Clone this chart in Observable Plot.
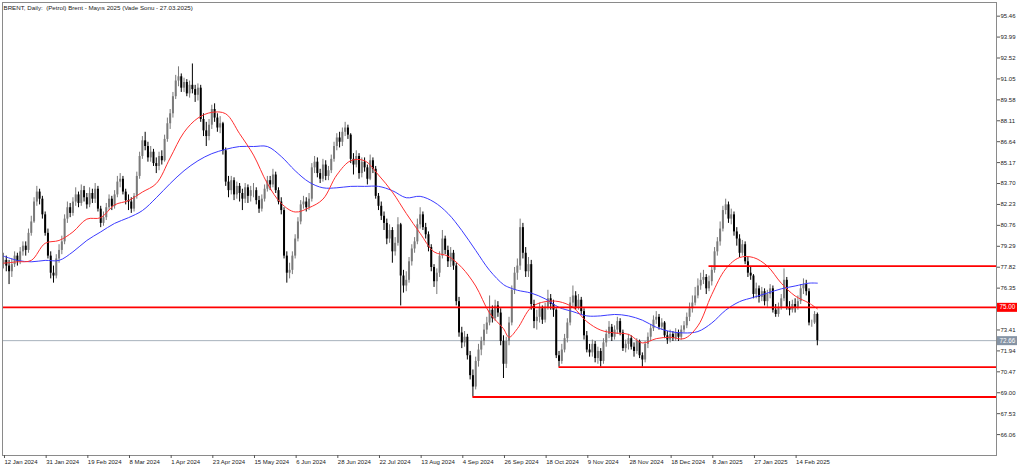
<!DOCTYPE html>
<html><head><meta charset="utf-8">
<script src="https://cdn.jsdelivr.net/npm/d3@7"></script>
<script src="https://cdn.jsdelivr.net/npm/@observablehq/plot@0.6"></script>
<style>
html,body{margin:0;padding:0;background:#fff;}
#chart svg{display:block;}
</style></head><body><div id="chart"></div>
<script>
const title = "BRENT, Daily:  (Petrol) Brent - Mayıs 2025 (Vade Sonu - 27.03.2025)";

const opens = [
78.0,78.3,77.9,77.5,78.0,78.6,78.2,78.9,79.3,79.0,80.2,81.0,82.4,83.1,82.6,
81.5,80.2,78.6,77.4,77.2,78.4,79.0,79.6,81.2,82.0,81.6,82.4,82.9,82.3,83.2,
82.7,82.2,83.0,82.6,83.3,81.9,80.9,81.3,82.0,82.6,82.1,82.9,83.8,84.0,83.1,
82.5,82.4,81.9,82.8,84.2,85.6,86.7,86.3,85.5,85.9,85.1,84.9,85.6,85.3,86.8,
87.9,88.6,89.8,90.9,91.2,90.4,90.8,90.0,90.6,90.3,89.9,90.4,88.2,87.4,87.0,
87.8,88.9,88.3,87.6,87.9,86.0,83.8,83.2,83.9,82.9,83.5,83.0,82.6,83.4,82.8,
83.2,83.2,82.5,81.9,82.6,83.3,83.9,83.6,84.3,83.2,82.4,81.8,78.6,77.4,77.6,
78.6,79.8,81.0,82.2,82.4,82.0,82.6,84.8,85.2,84.4,84.0,85.0,84.2,84.6,85.4,
86.3,86.9,86.6,87.3,87.6,87.1,85.4,85.0,85.6,84.4,85.2,84.8,84.0,85.3,84.7,
82.8,82.1,81.4,80.9,79.8,80.4,78.9,79.5,80.8,77.2,76.5,76.9,78.2,79.1,79.6,
80.8,81.5,80.6,80.1,79.2,77.8,76.8,77.4,78.6,79.8,79.0,78.2,78.8,77.9,75.4,
73.2,72.5,72.9,71.6,70.2,69.4,71.2,72.0,72.6,73.4,73.9,74.8,74.2,75.1,74.6,
72.6,71.0,72.6,73.9,76.2,77.4,77.9,80.6,78.8,77.5,78.0,75.2,74.0,74.3,74.9,
74.1,75.0,75.6,75.2,74.8,71.6,71.2,72.0,72.8,73.9,75.3,75.8,75.0,75.5,74.7,
73.0,72.0,71.8,72.4,71.4,71.9,71.2,72.5,73.1,73.6,72.9,73.4,74.0,73.2,72.1,
72.4,72.8,72.2,71.9,72.6,71.6,71.3,72.4,72.9,73.5,74.1,74.3,73.6,73.9,73.0,
72.7,73.1,72.8,73.2,72.9,73.4,73.7,74.3,74.9,75.3,75.8,76.5,76.9,77.1,76.3,
76.8,77.6,78.9,79.6,80.5,81.8,82.2,81.2,81.5,80.3,79.8,78.8,79.4,78.2,77.4,
77.2,75.9,76.3,75.7,76.1,75.4,75.9,76.3,74.8,74.5,75.0,75.6,76.9,75.0,74.8,
75.2,75.0,75.4,76.3,76.6,76.1,73.9,73.9,74.5];

const highs = [
78.8,78.6,78.3,78.4,78.9,78.8,79.2,79.6,79.6,80.5,81.4,82.7,83.5,83.3,82.8,
81.7,80.5,78.9,77.9,78.7,79.4,80.0,81.5,82.4,82.3,82.7,83.4,83.1,83.6,83.5,
83.0,83.4,83.3,83.7,83.5,82.1,81.7,82.3,82.9,82.8,83.2,84.2,84.4,84.2,83.3,
82.9,82.7,83.0,84.5,85.9,87.0,87.3,86.6,86.3,86.1,85.5,85.9,86.0,87.1,88.3,
88.9,90.1,91.3,91.9,91.4,91.1,91.0,90.9,92.1,90.6,90.7,90.6,88.6,88.0,88.2,
89.2,89.3,88.6,88.4,88.0,86.2,84.2,84.2,84.1,83.8,83.7,83.3,83.7,83.6,83.5,
83.7,83.4,82.8,82.9,83.6,84.2,84.2,84.7,84.5,83.4,82.7,82.0,78.9,78.1,78.9,
80.1,81.3,82.5,82.8,82.7,83.0,85.1,85.6,85.5,84.7,85.4,85.3,84.9,85.7,86.6,
87.2,87.3,87.6,88.0,87.8,87.2,85.8,86.0,85.8,85.5,85.5,85.0,85.7,85.5,84.9,
83.0,82.4,81.7,81.2,80.8,80.6,79.9,81.3,80.9,77.6,77.5,78.5,79.4,79.9,81.2,
82.0,81.7,80.9,80.3,79.4,78.0,77.7,78.9,80.4,80.0,79.3,79.2,79.0,78.1,75.7,
73.6,73.3,73.1,71.9,70.6,71.5,72.4,72.9,73.8,74.3,75.8,75.1,75.5,75.4,74.9,
73.0,72.9,74.3,76.5,77.8,78.4,81.2,80.9,79.2,78.5,78.3,75.5,74.8,75.3,75.1,
75.3,76.2,75.9,75.5,74.9,71.9,72.4,73.1,74.2,75.7,76.5,76.1,75.9,75.7,74.9,
73.3,72.4,72.7,72.6,72.2,72.1,72.8,73.4,74.0,73.8,73.7,74.3,74.2,73.4,72.7,
73.1,73.0,72.5,72.8,72.7,71.8,72.6,73.2,73.8,74.4,74.7,74.5,74.2,74.0,73.3,
73.4,73.3,73.5,73.4,73.7,74.0,74.6,75.3,75.8,76.4,77.0,77.4,77.6,77.3,77.2,
77.9,79.2,79.9,81.0,82.1,82.6,82.4,81.9,81.7,80.6,80.1,79.7,79.6,78.5,77.8,
77.3,76.7,76.5,76.4,76.3,76.2,76.6,76.5,75.2,75.3,75.9,77.7,77.1,75.4,75.5,
75.6,75.8,76.6,77.0,76.9,76.3,74.1,74.7,74.6];

const lows = [
77.7,77.5,76.6,77.1,77.8,77.9,78.0,78.6,78.6,78.8,80.0,80.9,82.1,82.2,81.2,
80.0,78.4,77.0,76.7,77.0,78.1,78.7,79.4,80.9,81.3,81.4,82.1,82.0,82.1,82.4,
81.9,82.0,82.3,82.3,81.7,80.6,80.7,81.1,81.8,81.8,81.9,82.7,83.4,82.9,82.2,
81.8,81.6,81.7,82.6,84.0,85.4,86.0,85.2,85.2,84.9,84.4,84.6,85.0,85.2,86.6,
87.5,88.3,89.6,90.5,90.1,90.1,89.8,89.7,90.0,89.4,89.5,88.0,87.0,86.3,86.7,
87.5,88.0,87.3,87.2,85.7,83.5,82.7,82.9,82.5,82.6,82.4,81.8,82.3,82.3,82.4,
82.7,82.2,81.6,81.7,82.4,83.1,83.2,83.4,83.0,82.2,81.5,78.4,76.7,77.0,77.3,
78.4,79.6,80.8,81.9,81.7,81.8,82.4,84.4,84.1,83.7,83.8,83.9,83.9,84.4,85.2,
86.0,86.2,86.3,87.0,86.8,85.1,84.3,84.8,84.0,84.1,84.5,83.6,83.9,84.4,82.6,
81.8,81.1,80.4,79.4,79.5,78.1,78.6,79.3,75.1,76.0,76.1,76.7,77.9,78.8,79.4,
80.5,80.4,79.8,78.9,77.5,76.4,75.9,77.1,78.4,78.7,77.8,77.8,77.6,75.1,72.9,
72.1,72.2,71.3,69.9,68.7,69.2,70.8,71.6,72.3,73.1,73.7,73.9,74.0,74.3,72.3,
70.0,70.7,72.3,73.7,75.9,76.9,77.6,78.4,77.1,77.1,74.8,73.5,73.4,73.9,73.8,
73.9,74.8,74.8,74.3,71.4,70.8,71.0,71.8,72.5,73.7,75.0,74.8,74.8,74.5,72.7,
71.8,71.5,71.5,71.1,71.0,70.8,71.0,72.2,72.8,72.6,72.7,73.1,73.0,71.9,71.8,
72.0,72.0,71.5,71.7,71.4,70.8,71.1,72.1,72.6,73.3,73.8,73.4,73.4,72.8,72.4,
72.5,72.6,72.6,72.6,72.7,73.2,73.5,74.0,74.6,75.1,75.6,76.2,76.6,75.9,76.1,
76.5,77.4,78.6,79.3,80.3,81.5,80.9,80.8,80.0,79.3,78.5,78.6,78.0,77.1,76.9,
75.6,75.6,75.3,75.4,75.1,75.0,75.6,74.6,74.3,74.3,74.8,75.4,74.8,74.4,74.6,
74.6,74.8,75.2,75.9,75.8,73.7,73.6,73.8,72.3];

const closes = [
78.3,77.9,77.5,78.0,78.6,78.2,78.9,79.3,79.0,80.2,81.0,82.4,83.1,82.6,81.5,
80.2,78.6,77.4,77.2,78.4,79.0,79.6,81.2,82.0,81.6,82.4,82.9,82.3,83.2,82.7,
82.2,83.0,82.6,83.3,81.9,80.9,81.3,82.0,82.6,82.1,82.9,83.8,84.0,83.1,82.5,
82.4,81.9,82.8,84.2,85.6,86.7,86.3,85.5,85.9,85.1,84.9,85.6,85.3,86.8,87.9,
88.6,89.8,90.9,91.2,90.4,90.8,90.0,90.6,90.3,89.9,90.4,88.2,87.4,87.0,87.8,
88.9,88.3,87.6,87.9,86.0,83.8,83.2,83.9,82.9,83.5,83.0,82.6,83.4,82.8,83.2,
83.2,82.5,81.9,82.6,83.3,83.9,83.6,84.3,83.2,82.4,81.8,78.6,77.4,77.6,78.6,
79.8,81.0,82.2,82.4,82.0,82.6,84.8,85.2,84.4,84.0,85.0,84.2,84.6,85.4,86.3,
86.9,86.6,87.3,87.6,87.1,85.4,85.0,85.6,84.4,85.2,84.8,84.0,85.3,84.7,82.8,
82.1,81.4,80.9,79.8,80.4,78.9,79.5,80.8,77.2,76.5,76.9,78.2,79.1,79.6,80.8,
81.5,80.6,80.1,79.2,77.8,76.8,77.4,78.6,79.8,79.0,78.2,78.8,77.9,75.4,73.2,
72.5,72.9,71.6,70.2,69.4,71.2,72.0,72.6,73.4,73.9,74.8,74.2,75.1,74.6,72.6,
71.0,72.6,73.9,76.2,77.4,77.9,80.6,78.8,77.5,78.0,75.2,74.0,74.3,74.9,74.1,
75.0,75.6,75.2,74.8,71.6,71.2,72.0,72.8,73.9,75.3,75.8,75.0,75.5,74.7,73.0,
72.0,71.8,72.4,71.4,71.9,71.2,72.5,73.1,73.6,72.9,73.4,74.0,73.2,72.1,72.4,
72.8,72.2,71.9,72.6,71.6,71.3,72.4,72.9,73.5,74.1,74.3,73.6,73.9,73.0,72.7,
73.1,72.8,73.2,72.9,73.4,73.7,74.3,74.9,75.3,75.8,76.5,76.9,77.1,76.3,76.8,
77.6,78.9,79.6,80.5,81.8,82.2,81.2,81.5,80.3,79.8,78.8,79.4,78.2,77.4,77.2,
75.9,76.3,75.7,76.1,75.4,75.9,76.3,74.8,74.5,75.0,75.6,76.9,75.0,74.8,75.2,
75.0,75.4,76.3,76.6,76.1,73.9,73.9,74.5,72.66];

// moving averages (bar index, value)
const maBars = [0,5,10,15,20,25,30,35,40,45,50,55,60,65,70,75,80,85,90,95,100,105,110,115,120,125,130,135,140,145,150,155,160,165,170,175,180,182,185,190,195,200,205,210,215,220,225,230,235,240,245,250,255,260,265,270,275,280,285,290,293];
const redMA = [78.1,78.2,78.3,79.5,79.7,80.3,81.2,81.3,82.2,82.5,83.1,83.7,85.5,87.3,88.3,88.7,88.6,87.2,85.7,83.7,82.3,81.7,82.0,82.6,84.3,85.3,85.3,84.3,83.1,81.6,80.2,78.9,78.6,77.8,76.5,74.6,73.5,72.9,73.5,75.0,75.4,75.4,75.0,74.0,73.4,73.2,73.1,72.5,72.8,72.9,72.8,73.7,75.9,77.7,78.5,78.5,77.9,76.7,75.8,75.3,74.9];
const blueMA = [78.6,78.3,78.2,78.3,78.3,78.9,79.7,80.3,80.9,81.3,81.8,82.7,83.7,84.6,85.3,85.8,86.1,86.3,86.3,86.3,85.6,84.6,83.8,83.4,83.4,83.5,83.5,83.5,83.2,82.7,82.8,82.4,81.6,80.4,79.0,77.6,76.6,76.4,76.2,76.0,75.6,75.0,74.7,74.4,74.4,74.5,74.4,74.1,73.6,73.3,73.2,73.3,73.9,74.8,75.4,75.7,76.0,76.3,76.5,76.7,76.7];

// horizontal levels
const fullLevel = 75.00;
const levelPrices = [77.9, 70.8, 68.7];
const levelStartBars = [254, 200, 169];

const xTickBars = [0,15,30,45,60,75,90,105,120,135,150,165,180,195,210,225,240,255,270,285];
const xTickLabels = ["12 Jan 2024","31 Jan 2024","19 Feb 2024","8 Mar 2024","1 Apr 2024","23 Apr 2024","15 May 2024","6 Jun 2024","28 Jun 2024","22 Jul 2024","13 Aug 2024","4 Sep 2024","26 Sep 2024","18 Oct 2024","9 Nov 2024","28 Nov 2024","18 Dec 2024","8 Jan 2025","27 Jan 2025","14 Feb 2025"];
const yTicks = [95.46,93.99,92.52,91.05,89.58,88.11,86.64,85.17,83.70,82.23,80.76,79.29,77.82,76.35,73.41,71.94,70.47,69.00,67.53,66.06];

const xDomain = [-0.36, 357.5];
const bars = closes.map((c, i) => ({i, o: opens[i], h: highs[i], l: lows[i], c}));
const ma = maBars.map((b, k) => ({i: b, red: redMA[k], blue: blueMA[k]}));
const levels = levelPrices.map((p, k) => ({p, s: levelStartBars[k], e: xDomain[1]}));
const lastClose = closes[closes.length - 1];
const labelOf = new Map(xTickBars.map((b, k) => [b, xTickLabels[k]]));
const col = d => d.c >= d.o ? "#7a7a7a" : "#000000";
const FONT = "'Liberation Sans', Arial, sans-serif";

const tags = [
  {v: fullLevel, fill: "#ff0000"},
  {v: lastClose, fill: "#8593a4"}
];

const chart = Plot.plot({
  width: 1024, height: 469,
  marginLeft: 2, marginRight: 28, marginTop: 2, marginBottom: 14,
  x: {domain: xDomain},
  y: {domain: [64.59, 96.42]},
  style: {fontFamily: FONT, fontSize: "6px", color: "#222", background: "#fff"},
  marks: [
    Plot.ruleY([lastClose], {stroke: "#a7b1bc", strokeWidth: 1}),
    Plot.ruleX(bars, {x: "i", y1: "l", y2: "h", stroke: col, strokeWidth: 1}),
    Plot.ruleX(bars, {x: "i", y1: "o", y2: "c", stroke: col, strokeWidth: 2}),
    Plot.line(ma, {x: "i", y: "blue", stroke: "#3b3bff", strokeWidth: 1, curve: "catmull-rom"}),
    Plot.line(ma, {x: "i", y: "red", stroke: "#ff3030", strokeWidth: 1, curve: "catmull-rom"}),
    Plot.ruleY([fullLevel], {stroke: "#ff0000", strokeWidth: 1.8}),
    Plot.ruleY(levels, {y: "p", x1: "s", x2: "e", stroke: "#ff0000", strokeWidth: 1.8}),
    Plot.frame({stroke: "#8a8a8a"}),
    Plot.axisY(yTicks, {anchor: "right", tickSize: 3, tickPadding: 1, tickFormat: d => d.toFixed(2), fontSize: 6, fill: "#222", stroke: "#555"}),
    Plot.axisX(xTickBars, {anchor: "bottom", tickSize: 3, tickPadding: 1, tickFormat: d => labelOf.get(d), textAnchor: "start", dx: 1, fontSize: 6, fill: "#222", stroke: "#555"}),
    // price tags in the right margin: a thick short rule as the box, white text on top
    Plot.ruleY(tags, {y: "v", x1: xDomain[1], x2: xDomain[1], dx: 11, stroke: "fill", strokeWidth: 9, strokeLinecap: "butt", clip: false,
      render: (index, scales, values, dims, context, next) => {
        const g = next(index, scales, values, dims, context);
        d3.select(g).selectAll("line").each(function() {
          const s = d3.select(this);
          s.attr("x1", +s.attr("x1") - 10).attr("x2", +s.attr("x2") + 10);
        });
        return g;
      }}),
    Plot.text(tags, {y: "v", x: xDomain[1], dx: 3, text: d => d.v.toFixed(2), textAnchor: "start", fill: "#ffffff", fontSize: 6.3}),
    Plot.text([title], {frameAnchor: "top-left", dx: 1, dy: 3, textAnchor: "start", lineAnchor: "top", fontSize: 6.2, fill: "#222"})
  ]
});
document.getElementById("chart").appendChild(chart);
d3.select(chart).selectAll("text").style("white-space", "pre");
</script>
</body></html>
